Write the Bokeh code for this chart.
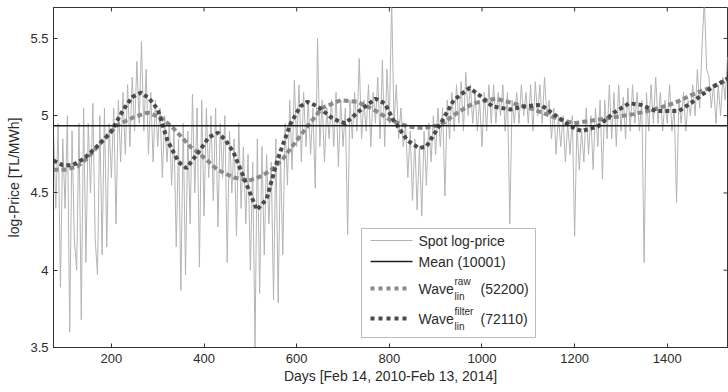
import numpy as np
from bokeh.plotting import figure
from bokeh.models import (Range1d, FixedTicker, NumeralTickFormatter,
                          Span, BoxAnnotation, Label)
from bokeh.embed import file_html
from bokeh.resources import INLINE

# ---------------- data ----------------
X_RANGE = (75, 1530)
Y_RANGE = (3.5, 5.7)
x_ticks = [200, 400, 600, 800, 1000, 1200, 1400]
y_ticks = [3.5, 4.0, 4.5, 5.0, 5.5]

spot_start, spot_step = 75, 5
spot_val = [
    4.90, 4.40, 4.95, 3.89, 4.85, 4.40, 5.00, 3.60, 4.90, 4.20,   # 75
    4.00, 4.95, 3.68, 5.05, 4.05, 4.95, 4.50, 5.08, 4.20, 3.97,   # 125
    5.00, 4.10, 5.05, 4.15, 4.95, 4.60, 5.05, 4.30, 5.10, 4.70,   # 175
    5.15, 4.75, 5.20, 4.80, 5.25, 4.90, 5.35, 4.95, 5.48, 4.90,   # 225
    5.30, 4.75, 5.15, 4.70, 5.10, 4.80, 5.05, 4.60, 5.00, 4.70,   # 275
    4.95, 4.55, 4.90, 4.15, 4.85, 3.87, 4.95, 3.97, 4.90, 4.30,   # 325
    5.14, 4.50, 5.05, 4.02, 5.10, 4.35, 5.05, 4.60, 5.00, 4.45,   # 375
    5.05, 4.28, 4.95, 4.60, 5.00, 4.05, 4.90, 4.50, 4.85, 4.22,   # 425
    4.95, 4.40, 4.80, 4.30, 4.75, 4.00, 4.70, 3.50, 4.85, 3.85,   # 475
    4.80, 4.10, 4.75, 4.30, 4.70, 3.81, 4.85, 3.79, 4.75, 4.10,   # 525
    4.95, 4.55, 5.10, 4.65, 5.23, 4.80, 5.20, 4.70, 5.15, 4.80,   # 575
    5.10, 4.75, 5.05, 4.53, 5.50, 4.80, 5.10, 4.70, 5.05, 4.85,   # 625
    5.10, 4.80, 5.15, 4.67, 5.10, 4.80, 5.05, 4.23, 5.10, 4.85,   # 675
    5.15, 4.90, 5.37, 4.85, 5.10, 4.90, 5.20, 4.80, 5.15, 4.95,   # 725
    5.25, 4.85, 5.36, 4.80, 5.30, 4.95, 5.75, 4.95, 5.20, 4.85,   # 775
    5.05, 4.80, 4.95, 4.60, 4.90, 4.45, 4.85, 4.39, 4.80, 4.35,   # 825
    4.90, 4.55, 4.95, 4.70, 5.00, 4.75, 5.05, 4.80, 5.05, 4.48,   # 875
    5.10, 4.85, 5.15, 4.90, 5.20, 4.95, 5.22, 4.90, 5.28, 5.00,   # 925
    5.20, 4.95, 5.15, 4.90, 5.10, 4.80, 5.15, 4.90, 5.20, 4.95,   # 975
    5.20, 4.95, 5.15, 5.00, 5.20, 4.90, 5.15, 4.30, 5.10, 4.95,   # 1025
    5.15, 4.95, 5.20, 5.00, 5.15, 4.95, 5.20, 4.90, 5.22, 5.00,   # 1075
    5.20, 4.95, 5.25, 5.00, 5.10, 4.85, 5.05, 4.75, 5.00, 4.80,   # 1125
    5.00, 4.70, 4.95, 4.75, 5.00, 4.22, 4.95, 4.65, 4.90, 4.70,   # 1175
    5.05, 4.75, 5.00, 4.65, 5.05, 4.80, 5.10, 4.59, 5.10, 4.85,   # 1225
    5.20, 4.85, 5.15, 4.80, 5.20, 4.90, 5.12, 4.85, 5.18, 4.90,   # 1275
    5.20, 4.95, 5.15, 4.90, 5.10, 4.05, 5.15, 4.90, 5.20, 4.95,   # 1325
    5.25, 4.95, 5.15, 4.90, 5.10, 4.95, 5.20, 4.90, 5.05, 4.44,   # 1375
    5.10, 4.95, 5.15, 4.90, 5.10, 5.00, 5.20, 5.00, 5.30, 5.05,   # 1425
    5.45, 5.75, 5.30, 5.25, 5.05, 5.20, 4.95, 5.20, 5.00, 5.25, 5.10, 5.38,  # 1475
]
spot_day = spot_start + spot_step * np.arange(len(spot_val))

mean_level = 4.935

raw_day = [75, 100, 126, 150, 176, 213, 248, 278, 306, 330, 349, 370, 392, 429, 464,
           497, 525, 550, 570, 590, 623, 655, 695, 731, 766, 803, 839, 874, 911, 947,
           982, 1012, 1030, 1068, 1112, 1155, 1198, 1241, 1285, 1328, 1371, 1414, 1457,
           1500, 1530]
raw_val = [4.65, 4.65, 4.67, 4.73, 4.82, 4.94, 4.99, 5.02, 4.99, 4.93, 4.87, 4.80, 4.75, 4.65, 4.60,
           4.58, 4.61, 4.66, 4.72, 4.80, 4.93, 5.05, 5.10, 5.09, 5.04, 4.97, 4.93, 4.92, 4.94, 5.02,
           5.08, 5.10, 5.11, 5.08, 5.04, 4.99, 4.95, 4.97, 4.99, 5.01, 5.04, 5.08, 5.14,
           5.19, 5.23]

filt_day = [75, 95, 116, 140, 165, 198, 226, 245, 264, 282, 300, 321, 345, 362, 392, 410, 430,
            447, 464, 490, 514, 535, 559, 587, 608, 623, 645, 678, 705, 735, 770, 790, 809,
            839, 864, 880, 911, 939, 973, 1000, 1022, 1062, 1090, 1127, 1164, 1192, 1215,
            1250, 1285, 1318, 1343, 1375, 1425, 1455, 1495, 1530]
filt_val = [4.71, 4.68, 4.68, 4.72, 4.79, 4.89, 5.04, 5.12, 5.15, 5.11, 5.04, 4.84, 4.70, 4.66, 4.78, 4.86, 4.89,
            4.84, 4.76, 4.57, 4.39, 4.46, 4.72, 4.95, 5.06, 5.09, 5.06, 4.98, 4.95, 5.03, 5.11, 5.08, 4.97,
            4.84, 4.79, 4.80, 4.95, 5.10, 5.18, 5.12, 5.06, 5.04, 5.06, 5.07, 4.99, 4.93, 4.90,
            4.93, 5.02, 5.08, 5.07, 5.03, 5.03, 5.09, 5.18, 5.24]

legend_labels = ["Spot log-price", "Mean (10001)", "(52200)", "(72110)"]

# ---------------- styles ----------------
FONT = "Liberation Sans"
TXT = "#2b2b2b"
AX = "#333333"
SPOT_C = "#b4b4b4"
MEAN_C = "#1e1e1e"
RAW_C = "#8a8a8a"
FILT_C = "#4a4a4a"

p = figure(width=728, height=392, x_range=Range1d(*X_RANGE), y_range=Range1d(*Y_RANGE),
           output_backend="svg", toolbar_location=None,
           min_border_left=53, min_border_right=1, min_border_top=7, min_border_bottom=45)
p.background_fill_color = "white"
p.border_fill_color = "white"
p.outline_line_color = AX
p.outline_line_width = 1
p.xgrid.visible = False
p.ygrid.visible = False

def style_axis(ax, ticks):
    ax.ticker = FixedTicker(ticks=ticks)
    ax.minor_tick_line_color = None
    ax.major_tick_in = 4
    ax.major_tick_out = 0
    ax.major_tick_line_color = AX
    ax.axis_line_color = AX
    ax.major_label_text_font = FONT
    ax.major_label_text_color = TXT
    ax.major_label_text_font_size = "13px"
    ax.axis_label_text_font = FONT
    ax.axis_label_text_color = TXT
    ax.axis_label_text_font_style = "normal"
    ax.axis_label_text_font_size = "14px"

xa = p.xaxis[0]
style_axis(xa, x_ticks)
xa.axis_label = "Days [Feb 14, 2010-Feb 13, 2014]"
xa.major_label_standoff = 6
xa.axis_label_standoff = 2

ya = p.yaxis[0]
style_axis(ya, y_ticks)
ya.formatter = NumeralTickFormatter(format="0.[0]")
ya.axis_label = "log-Price [TL/MWh]"
ya.major_label_standoff = 5
ya.axis_label_standoff = 5

# mirrored ticks on the top and right frame edges (MATLAB box style)
FL, FR, FT, FB = 53, 727, 7, 347
tick_dy = 4 / (FB - FT) * (Y_RANGE[1] - Y_RANGE[0])
tick_dx = 4 / (FR - FL) * (X_RANGE[1] - X_RANGE[0])
p.segment(x0=x_ticks, x1=x_ticks, y0=[Y_RANGE[1]] * len(x_ticks),
          y1=[Y_RANGE[1] - tick_dy] * len(x_ticks), line_color=AX, line_width=1)
p.segment(x0=[X_RANGE[1]] * len(y_ticks), x1=[X_RANGE[1] - tick_dx] * len(y_ticks),
          y0=y_ticks, y1=y_ticks, line_color=AX, line_width=1)

# ---------------- data marks ----------------
p.line(spot_day, spot_val, line_color=SPOT_C, line_width=1)
p.add_layout(Span(location=mean_level, dimension="width", line_color=MEAN_C, line_width=1.6))
p.line(raw_day, raw_val, line_color=RAW_C, line_width=4, line_dash="5 3")
p.line(filt_day, filt_val, line_color=FILT_C, line_width=4, line_dash="4 3")

# ---------------- manual legend (pixel layout -> data coords) ----------------
def dx(px):
    return X_RANGE[0] + (px - FL) / (FR - FL) * (X_RANGE[1] - X_RANGE[0])
def dy(py):
    return Y_RANGE[1] - (py - FT) / (FB - FT) * (Y_RANGE[1] - Y_RANGE[0])

p.add_layout(BoxAnnotation(left=dx(361), right=dx(535), top=dy(228), bottom=dy(337),
                           fill_color="white", fill_alpha=1.0,
                           line_color="#222222", line_width=1))

samples = [
    (240, SPOT_C, 1, "solid", 412),
    (261, MEAN_C, 1.6, "solid", 412),
    (288, RAW_C, 4, "4 4", 406),
    (318, FILT_C, 4, "4 4", 406),
]
for py, col, lw, dash, xend in samples:
    r = p.line([dx(370), dx(xend)], [dy(py), dy(py)], line_color=col, line_width=lw, line_dash=dash)
    r.level = "overlay"

def add_text(px, py, txt, size):
    p.add_layout(Label(x=dx(px), y=dy(py), text=txt, text_font=FONT, text_font_size=size,
                       text_color=TXT, text_align="left", text_baseline="middle"))

add_text(418, 240, legend_labels[0], "14px")
add_text(418, 261, legend_labels[1], "14px")
add_text(418, 288, "Wave", "14px")
add_text(454, 281, "raw", "10px")
add_text(454, 296, "lin", "10px")
add_text(480, 288, legend_labels[2], "14px")
add_text(418, 318, "Wave", "14px")
add_text(454, 311, "filter", "10px")
add_text(454, 326, "lin", "10px")
add_text(480, 318, legend_labels[3], "14px")

open("out.html", "w").write(file_html(p, INLINE))
